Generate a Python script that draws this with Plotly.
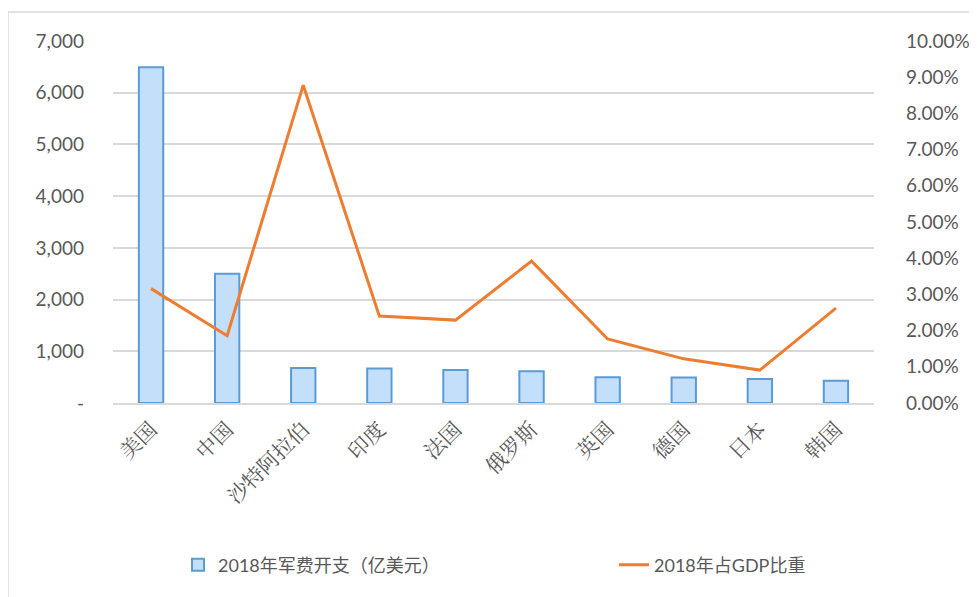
import plotly.graph_objects as go
from plotly.subplots import make_subplots

countries = ["美国", "中国", "沙特阿拉伯", "印度", "法国", "俄罗斯", "英国", "德国", "日本", "韩国"]
spending = [6490, 2500, 676, 665, 638, 614, 500, 495, 466, 431]
gdp_share = [0.0316, 0.0186, 0.0878, 0.0240, 0.0229, 0.0392, 0.0177, 0.0122, 0.0091, 0.0262]

left_vals = [0, 1000, 2000, 3000, 4000, 5000, 6000, 7000]
left_text = ["-", "1,000", "2,000", "3,000", "4,000", "5,000", "6,000", "7,000"]
right_vals = [i / 100 for i in range(11)]

W, H = 977, 597
OFF = 8  # page body margin
L, R, T, B = 113 - OFF, 874 - OFF, 41 - OFF, 403 - OFF

fig = make_subplots(specs=[[{"secondary_y": True}]])
fig.add_trace(go.Bar(
    x=countries, y=spending, name="2018年军费开支（亿美元）",
    width=0.32, legend="legend",
    marker=dict(color="#c4dffa", line=dict(color="#5b9bd5", width=2)),
), secondary_y=False)
fig.add_trace(go.Scatter(
    x=countries, y=gdp_share, name="2018年占GDP比重", mode="lines",
    legend="legend2",
    line=dict(color="#ed7d31", width=3),
), secondary_y=True)

tickfont = dict(family="Lato, 'Noto Sans', sans-serif", size=19, color="#595959")
fig.update_yaxes(range=[0, 7000], tickvals=left_vals, ticktext=left_text,
                 showgrid=True, gridcolor="#d9d9d9", gridwidth=1.5, zeroline=False,
                 showline=False, tickfont=tickfont, ticks="", ticklabelstandoff=28,
                 automargin=False, secondary_y=False)
fig.update_yaxes(range=[0, 0.10], tickvals=right_vals, tickformat=".2%",
                 showgrid=False, zeroline=False, showline=False, tickfont=tickfont,
                 ticks="", ticklabelstandoff=31, automargin=False, secondary_y=True)
fig.update_xaxes(tickangle=-45, showline=True, linecolor="#d9d9d9", linewidth=1.5,
                 ticks="", showgrid=False, automargin=False, ticklabelstandoff=4,
                 domain=[0, 1],
                 tickfont=dict(family="'Noto Serif CJK SC', 'Noto Sans CJK SC', serif", size=21, color="#595959"))

pw, ph = R - L, B - T
def px(x):
    return (x - OFF - L) / pw
def py(y):
    return (B - (y - OFF)) / ph

legfont = dict(family="Lato, 'Noto Sans CJK SC', sans-serif", size=18, color="#595959")
fig.update_layout(
    width=W, height=H,
    margin=dict(l=L, r=W - R, t=T, b=H - B, autoexpand=False),
    plot_bgcolor="white", paper_bgcolor="white",
    showlegend=True,
    legend=dict(orientation="h", x=px(178), xanchor="left", y=py(565), yanchor="middle",
                font=legfont, bgcolor="rgba(0,0,0,0)"),
    legend2=dict(orientation="h", x=px(614), xanchor="left", y=py(565), yanchor="middle",
                 font=legfont, bgcolor="rgba(0,0,0,0)"),
    shapes=[dict(type="rect", xref="paper", yref="paper",
                 x0=px(8), x1=px(1000), y0=py(620), y1=py(12),
                 line=dict(color="#d9d9d9", width=1.5), fillcolor="rgba(0,0,0,0)", layer="below")],
)

fig.write_html("out.html")
